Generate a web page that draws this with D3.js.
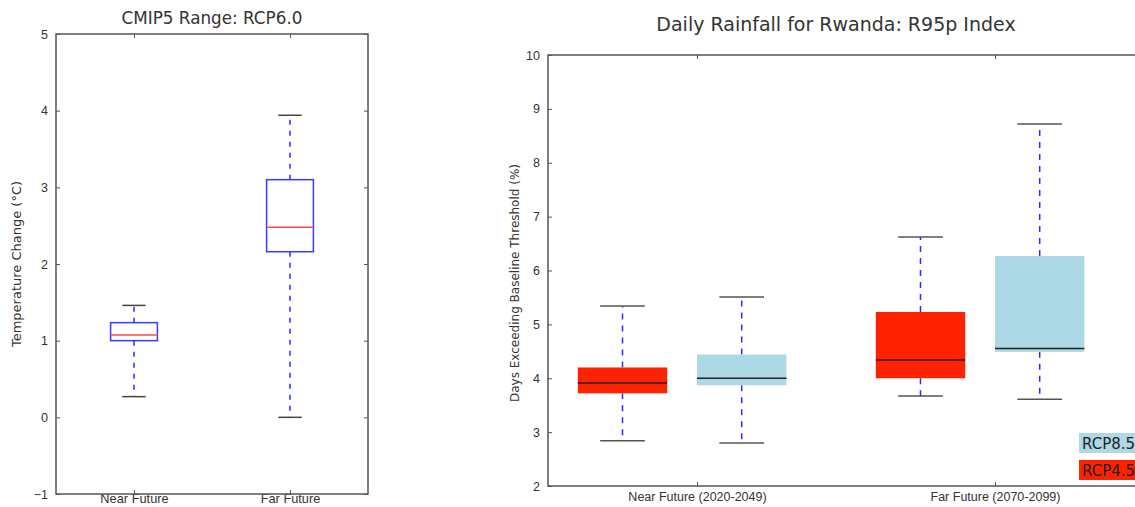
<!DOCTYPE html>
<html>
<head>
<meta charset="utf-8">
<script src="https://cdn.jsdelivr.net/npm/d3@7"></script>
<style>
  body { margin: 0; background: #fff; }
  svg { display: block; font-family: 'DejaVu Sans', sans-serif; }
</style>
</head>
<body>
<div id="chart"></div>
<script>
// left panel: CMIP5 temperature change (RCP6.0)
const tempCategories = ['Near Future', 'Far Future'];
const tempMin = [0.27, 0.0];
const tempQ1 = [1.0, 2.16];
const tempMedian = [1.075, 2.48];
const tempQ3 = [1.235, 3.10];
const tempMax = [1.46, 3.94];
const tempTicks = [-1, 0, 1, 2, 3, 4, 5];

// right panel: R95p index, two scenarios per period
const rainCategories = ['Near Future (2020-2049)', 'Far Future (2070-2099)'];
const rainSeries = ['RCP4.5', 'RCP8.5'];
const rcp45Min = [2.84, 3.67];
const rcp45Q1 = [3.72, 4.00];
const rcp45Median = [3.91, 4.34];
const rcp45Q3 = [4.20, 5.23];
const rcp45Max = [5.34, 6.62];
const rcp85Min = [2.80, 3.61];
const rcp85Q1 = [3.87, 4.49];
const rcp85Median = [4.00, 4.55];
const rcp85Q3 = [4.44, 6.27];
const rcp85Max = [5.51, 8.72];
const rainTicks = [2, 3, 4, 5, 6, 7, 8, 9, 10];

const W = 1135, H = 507;
const axisColor = '#555';
const textColor = '#333';
const whiskerBlue = '#2b2bff';
const fmt = d => (d < 0 ? '\u2212' + Math.abs(d) : String(d));

const svg = d3.select('#chart').append('svg')
  .attr('width', W)
  .attr('height', H);

function styleAxis(g, showText) {
  g.select('.domain').remove();
  g.selectAll('.tick line').attr('stroke', axisColor).attr('stroke-width', 1);
  g.selectAll('.tick text')
    .attr('fill', textColor)
    .style('font-size', '12.5px')
    .style('display', showText ? null : 'none');
}

// ---------- left panel ----------
const L = { left: 56, right: 368, top: 34, bottom: 494 };
const xL = d3.scaleLinear().domain([0.5, 2.5]).range([L.left, L.right]);
const yL = d3.scaleLinear().domain([-1, 5]).range([L.bottom, L.top]);
const gL = svg.append('g');

gL.append('g').attr('transform', `translate(${L.left},0)`)
  .call(d3.axisLeft(yL).tickValues(tempTicks).tickFormat(fmt).tickSize(-4).tickPadding(8))
  .call(g => styleAxis(g, true));
gL.append('g').attr('transform', `translate(${L.right},0)`)
  .call(d3.axisRight(yL).tickValues(tempTicks).tickSize(-4))
  .call(g => styleAxis(g, false));
gL.append('g').attr('transform', `translate(0,${L.top})`)
  .call(d3.axisTop(xL).tickValues([1, 2]).tickSize(-4))
  .call(g => styleAxis(g, false));
// category labels sit right against the bottom edge of the window
gL.append('g').attr('transform', `translate(0,${L.bottom})`)
  .call(d3.axisBottom(xL).tickValues([1, 2]).tickFormat((d, i) => tempCategories[i]).tickSize(-4).tickPadding(0))
  .call(g => styleAxis(g, true))
  .selectAll('.tick text').style('font-size', '12.8px');

const tempBoxW = 0.3, tempCapW = 0.15;
const tempData = tempCategories.map((c, i) => ({
  pos: i + 1, min: tempMin[i], q1: tempQ1[i], med: tempMedian[i], q3: tempQ3[i], max: tempMax[i]
}));
const tb = gL.selectAll('.tbox').data(tempData).enter().append('g').attr('class', 'tbox');
tb.append('line')
  .attr('x1', d => xL(d.pos)).attr('x2', d => xL(d.pos))
  .attr('y1', d => yL(d.q3)).attr('y2', d => yL(d.max))
  .attr('stroke', whiskerBlue).attr('stroke-width', 1.5).attr('stroke-dasharray', '5,6');
tb.append('line')
  .attr('x1', d => xL(d.pos)).attr('x2', d => xL(d.pos))
  .attr('y1', d => yL(d.q1)).attr('y2', d => yL(d.min))
  .attr('stroke', whiskerBlue).attr('stroke-width', 1.5).attr('stroke-dasharray', '5,6');
['max', 'min'].forEach(k => {
  tb.append('line')
    .attr('x1', d => xL(d.pos - tempCapW / 2)).attr('x2', d => xL(d.pos + tempCapW / 2))
    .attr('y1', d => yL(d[k])).attr('y2', d => yL(d[k]))
    .attr('stroke', '#444').attr('stroke-width', 1.5);
});
tb.append('rect')
  .attr('x', d => xL(d.pos - tempBoxW / 2))
  .attr('width', xL(tempBoxW) - xL(0))
  .attr('y', d => yL(d.q3))
  .attr('height', d => yL(d.q1) - yL(d.q3))
  .attr('fill', 'none').attr('stroke', '#3a3aff').attr('stroke-width', 1.5);
tb.append('line')
  .attr('x1', d => xL(d.pos - tempBoxW / 2)).attr('x2', d => xL(d.pos + tempBoxW / 2))
  .attr('y1', d => yL(d.med)).attr('y2', d => yL(d.med))
  .attr('stroke', '#ff4a4a').attr('stroke-width', 1.5);

gL.append('rect')
  .attr('x', L.left).attr('y', L.top)
  .attr('width', L.right - L.left).attr('height', L.bottom - L.top)
  .attr('fill', 'none').attr('stroke', axisColor).attr('stroke-width', 1.5);

gL.append('text')
  .attr('x', 212).attr('y', 24)
  .attr('text-anchor', 'middle').attr('fill', textColor)
  .style('font-size', '16.8px')
  .text('CMIP5 Range: RCP6.0');
gL.append('text')
  .attr('transform', `translate(21,${(L.top + L.bottom) / 2}) rotate(-90)`)
  .attr('text-anchor', 'middle').attr('fill', textColor)
  .style('font-size', '13px')
  .text('Temperature Change (\u00b0C)');

// ---------- right panel ----------
const R = { left: 548, right: 1144, top: 55, bottom: 486 };
const xR = d3.scaleLinear().domain([0.5, 2.5]).range([R.left, R.right]);
const yR = d3.scaleLinear().domain([2, 10]).range([R.bottom, R.top]);
const gR = svg.append('g');

gR.append('g').attr('transform', `translate(${R.left},0)`)
  .call(d3.axisLeft(yR).tickValues(rainTicks).tickSize(-4).tickPadding(8))
  .call(g => styleAxis(g, true));
gR.append('g').attr('transform', `translate(0,${R.top})`)
  .call(d3.axisTop(xR).tickValues([1, 2]).tickSize(-4))
  .call(g => styleAxis(g, false));
gR.append('g').attr('transform', `translate(0,${R.bottom})`)
  .call(d3.axisBottom(xR).tickValues([1, 2]).tickFormat((d, i) => rainCategories[i]).tickSize(-4).tickPadding(6))
  .call(g => styleAxis(g, true));

const rainBoxW = 0.3, rainCapW = 0.15;
const seriesOffset = [-0.25, 0.15];
const seriesFill = ['#ff2200', '#add8e6'];
const rainStats = [
  { min: rcp45Min, q1: rcp45Q1, med: rcp45Median, q3: rcp45Q3, max: rcp45Max },
  { min: rcp85Min, q1: rcp85Q1, med: rcp85Median, q3: rcp85Q3, max: rcp85Max }
];
const rainData = [];
rainCategories.forEach((c, i) => {
  rainSeries.forEach((s, j) => {
    const st = rainStats[j];
    rainData.push({
      pos: i + 1 + seriesOffset[j], fill: seriesFill[j],
      min: st.min[i], q1: st.q1[i], med: st.med[i], q3: st.q3[i], max: st.max[i]
    });
  });
});

const rb = gR.selectAll('.rbox').data(rainData).enter().append('g').attr('class', 'rbox');
rb.append('line')
  .attr('x1', d => xR(d.pos)).attr('x2', d => xR(d.pos))
  .attr('y1', d => yR(d.q3)).attr('y2', d => yR(d.max))
  .attr('stroke', whiskerBlue).attr('stroke-width', 1.5).attr('stroke-dasharray', '6,6');
rb.append('line')
  .attr('x1', d => xR(d.pos)).attr('x2', d => xR(d.pos))
  .attr('y1', d => yR(d.q1)).attr('y2', d => yR(d.min))
  .attr('stroke', whiskerBlue).attr('stroke-width', 1.5).attr('stroke-dasharray', '6,6');
['max', 'min'].forEach(k => {
  rb.append('line')
    .attr('x1', d => xR(d.pos - rainCapW / 2)).attr('x2', d => xR(d.pos + rainCapW / 2))
    .attr('y1', d => yR(d[k])).attr('y2', d => yR(d[k]))
    .attr('stroke', '#555').attr('stroke-width', 1.5);
});
rb.append('rect')
  .attr('x', d => xR(d.pos - rainBoxW / 2))
  .attr('width', xR(rainBoxW) - xR(0))
  .attr('y', d => yR(d.q3))
  .attr('height', d => yR(d.q1) - yR(d.q3))
  .attr('fill', d => d.fill);
rb.append('line')
  .attr('x1', d => xR(d.pos - rainBoxW / 2)).attr('x2', d => xR(d.pos + rainBoxW / 2))
  .attr('y1', d => yR(d.med)).attr('y2', d => yR(d.med))
  .attr('stroke', '#222').attr('stroke-width', 1.5);

gR.append('rect')
  .attr('x', R.left).attr('y', R.top)
  .attr('width', R.right - R.left).attr('height', R.bottom - R.top)
  .attr('fill', 'none').attr('stroke', axisColor).attr('stroke-width', 1.5);

gR.append('text')
  .attr('x', 836).attr('y', 31)
  .attr('text-anchor', 'middle').attr('fill', textColor)
  .style('font-size', '19px')
  .text('Daily Rainfall for Rwanda: R95p Index');
gR.append('text')
  .attr('transform', `translate(519,283) rotate(-90)`)
  .attr('text-anchor', 'middle').attr('fill', textColor)
  .style('font-size', '12px')
  .text('Days Exceeding Baseline Threshold (%)');

// legend: coloured text boxes, RCP8.5 above RCP4.5
const legend = gR.selectAll('.leg').data([1, 0]).enter().append('g').attr('class', 'leg')
  .attr('transform', (d, i) => `translate(1079,${433 + i * 27})`);
legend.append('rect')
  .attr('width', 70).attr('height', 20)
  .attr('fill', d => seriesFill[d]);
legend.append('text')
  .attr('x', 3).attr('y', 16)
  .attr('fill', '#222')
  .style('font-size', '15px')
  .text(d => rainSeries[d]);
</script>
</body>
</html>
